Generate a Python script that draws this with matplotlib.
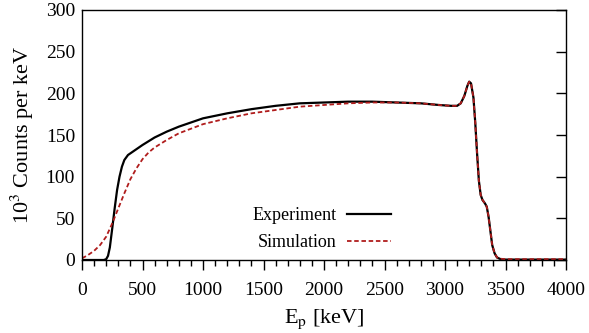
import matplotlib
matplotlib.use("Agg")
import matplotlib.pyplot as plt
from matplotlib.ticker import MultipleLocator

plt.rcParams['font.family'] = ['Liberation Serif', 'DejaVu Serif']
plt.rcParams['mathtext.fontset'] = 'stix'

# Experiment data (keV, 10^3 counts per keV)
exp_e = [0, 100, 180, 200, 215, 230, 250, 270, 290, 310, 330, 350, 380, 420, 500,
         600, 700, 800, 1000, 1200, 1400, 1600, 1800, 2000, 2200, 2400, 2600, 2800,
         2950, 3050, 3100, 3130, 3160, 3185, 3200, 3215, 3235, 3250, 3265, 3280,
         3295, 3310, 3330, 3345, 3360, 3375, 3390, 3410, 3430, 3460, 3500, 3700, 4000]
exp_c = [0, 0, 0, 1, 5, 15, 38, 62, 84, 100, 112, 120, 126, 130, 138,
         147, 154, 160, 170, 176, 181, 185, 188, 189, 190, 190, 189, 188,
         186, 185, 185, 188, 197, 209, 214, 212, 195, 165, 128, 95,
         78, 72, 68, 64, 52, 35, 18, 8, 3, 1, 0.5, 0.5, 0.5]

# Simulation data
sim_e = [0, 50, 100, 150, 200, 250, 300, 350, 400, 450, 500, 550, 600, 700, 800,
         1000, 1200, 1400, 1600, 1800, 2000, 2200, 2400, 2600, 2800,
         2950, 3050, 3100, 3130, 3160, 3185, 3200, 3215, 3235, 3250, 3265, 3280,
         3295, 3310, 3330, 3345, 3360, 3375, 3390, 3410, 3430, 3460, 3500, 3700, 4000]
sim_c = [2, 6, 11, 18, 28, 44, 62, 80, 97, 110, 121, 129, 135, 144, 152,
         163, 170, 176, 180, 184, 186, 188, 189, 189, 188,
         186, 185, 185, 188, 197, 209, 214, 212, 195, 165, 128, 95,
         78, 72, 68, 64, 52, 35, 18, 8, 3, 1.5, 1, 1, 1]

fig = plt.figure(figsize=(5.89, 3.33), dpi=100)
ax = fig.add_axes([82/589, 1-260/333, (566-82)/589, (260-10)/333])

ax.plot(exp_e, exp_c, color='black', lw=1.6, label='Experiment')
ax.plot(sim_e, sim_c, color='#b01c1c', lw=1.3, ls=(0, (2.5, 1.5)), label='Simulation')

ax.set_xlim(0, 4000)
ax.set_ylim(0, 300)
ax.xaxis.set_major_locator(MultipleLocator(500))
ax.xaxis.set_minor_locator(MultipleLocator(100))
ax.yaxis.set_major_locator(MultipleLocator(50))
ax.tick_params(axis='x', which='major', direction='out', length=7, width=1, labelsize=14, pad=9)
ax.tick_params(axis='x', which='minor', direction='out', length=4, width=1)
ax.tick_params(axis='y', which='major', direction='in', length=7, width=1, labelsize=14,
               left=False, right=True, labelleft=True, pad=5)
for s in ax.spines.values():
    s.set_linewidth(1.0)

ax.set_xlabel(r'E$_\mathrm{p}$ [keV]', fontsize=16, labelpad=6)
ax.set_ylabel(r'10$^3$ Counts per keV', fontsize=16, labelpad=7)

leg = ax.legend(loc='lower center', bbox_to_anchor=(0.495, 0.035), frameon=False,
                markerfirst=False, fontsize=13, handlelength=2.4, labelspacing=0.55,
                handletextpad=0.6, borderaxespad=0, borderpad=0)
for t in leg.get_texts():
    t.set_ha('right')

fig.savefig('out.png', dpi=100)
